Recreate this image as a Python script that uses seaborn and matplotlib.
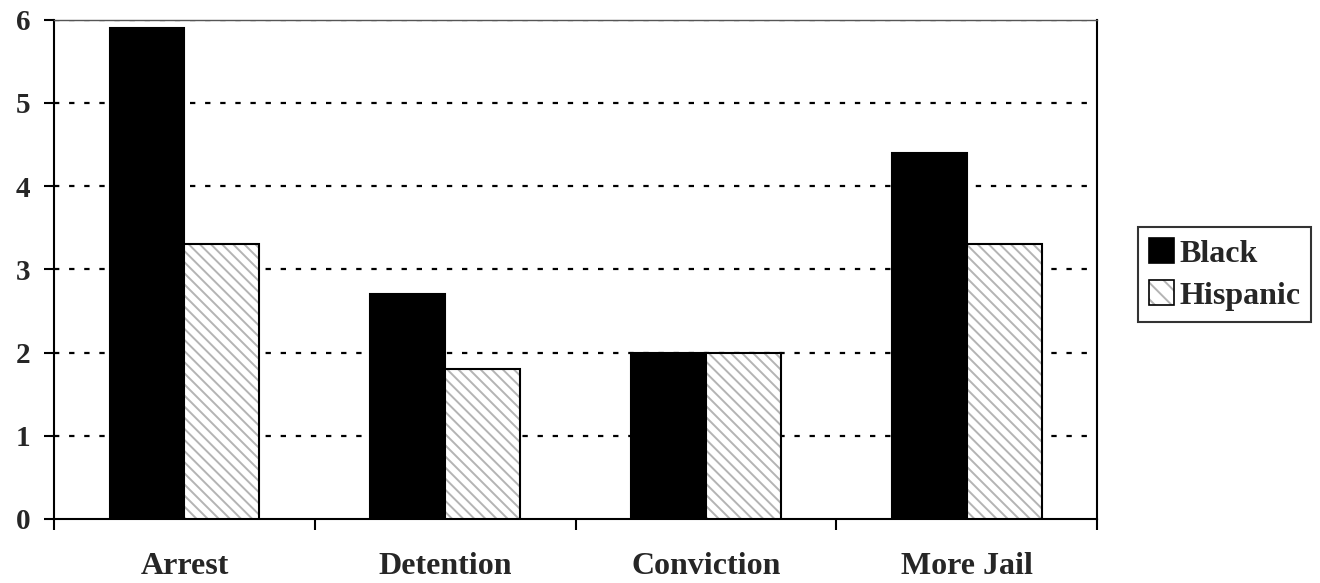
import pandas as pd
import matplotlib
matplotlib.use("Agg")
import matplotlib.pyplot as plt
import matplotlib.patches as mpatches
import seaborn as sns

# datos
stages = ["Arrest", "Detention", "Conviction", "More Jail"]
black_vals = [5.9, 2.7, 2.0, 4.4]
hispanic_vals = [3.3, 1.8, 2.0, 3.3]
groups = ["Black", "Hispanic"]

df = pd.DataFrame({
    "stage": stages * 2,
    "value": black_vals + hispanic_vals,
    "group": [groups[0]] * len(stages) + [groups[1]] * len(stages),
})

sns.set_theme(style="white")
plt.rcParams["font.family"] = ["Liberation Serif", "DejaVu Serif"]
plt.rcParams["font.weight"] = "bold"
plt.rcParams["hatch.linewidth"] = 1.4

fig = plt.figure(figsize=(13.2, 5.83), dpi=100)
ax = fig.add_axes([0.041, 0.110, 0.790, 0.856])

sns.barplot(data=df, x="stage", y="value", hue="group", order=stages,
            hue_order=groups, palette=["black", "white"], width=0.575,
            edgecolor="black", linewidth=1.5, saturation=1, ax=ax, zorder=3)

gray = matplotlib.colors.to_rgba("#b4b4b4")
hatch = "\\\\\\"
for bar in ax.containers[1]:
    bar.set_hatch(hatch)
    bar._hatch_color = gray

ax.set_ylim(0, 6)
ax.set_xlim(-0.5, 3.5)
ax.set_yticks(range(0, 7))
ax.set_xlabel("")
ax.set_ylabel("")

# lineas de cuadricula punteadas
for y in range(1, 7):
    ax.axhline(y, color="black", lw=1.6, linestyle=(0, (2.4, 4.4)), zorder=1)

ax.set_xticks(range(len(stages)))
ax.set_xticklabels(stages, fontsize=23, fontweight="bold")
ax.tick_params(axis="x", which="major", length=0, pad=23.5)
ax.set_xticks([-0.5, 0.5, 1.5, 2.5, 3.5], minor=True)
ax.tick_params(axis="x", which="minor", length=8, width=1.5, direction="out",
               bottom=True, color="black")
ax.tick_params(axis="y", length=7, width=1.5, direction="out", left=True,
               labelsize=21, pad=10, color="black")
for lab in ax.get_yticklabels():
    lab.set_fontweight("bold")

for side in ["left", "bottom", "right", "top"]:
    ax.spines[side].set_visible(True)
    ax.spines[side].set_color("black")
    ax.spines[side].set_linewidth(1.5)
ax.spines["top"].set_color("#555555")
ax.spines["top"].set_linewidth(1.0)

# leyenda con el mismo rayado
h_black = mpatches.Patch(facecolor="black", edgecolor="black", linewidth=1.2)
h_hisp = mpatches.Patch(facecolor="white", edgecolor="black", linewidth=1.2,
                        hatch="\\\\")
h_hisp._hatch_color = gray
ax.get_legend().remove()
leg = ax.legend([h_black, h_hisp], groups, loc="center left",
                bbox_to_anchor=(1.039, 0.49),
                frameon=True, fancybox=False, edgecolor="black",
                prop={"size": 23, "weight": "bold"}, handlelength=0.8,
                handleheight=0.85, handletextpad=0.15, borderpad=0.35,
                labelspacing=0.35, borderaxespad=0)
leg.get_frame().set_linewidth(1.5)

fig.savefig("out.png", dpi=100)
